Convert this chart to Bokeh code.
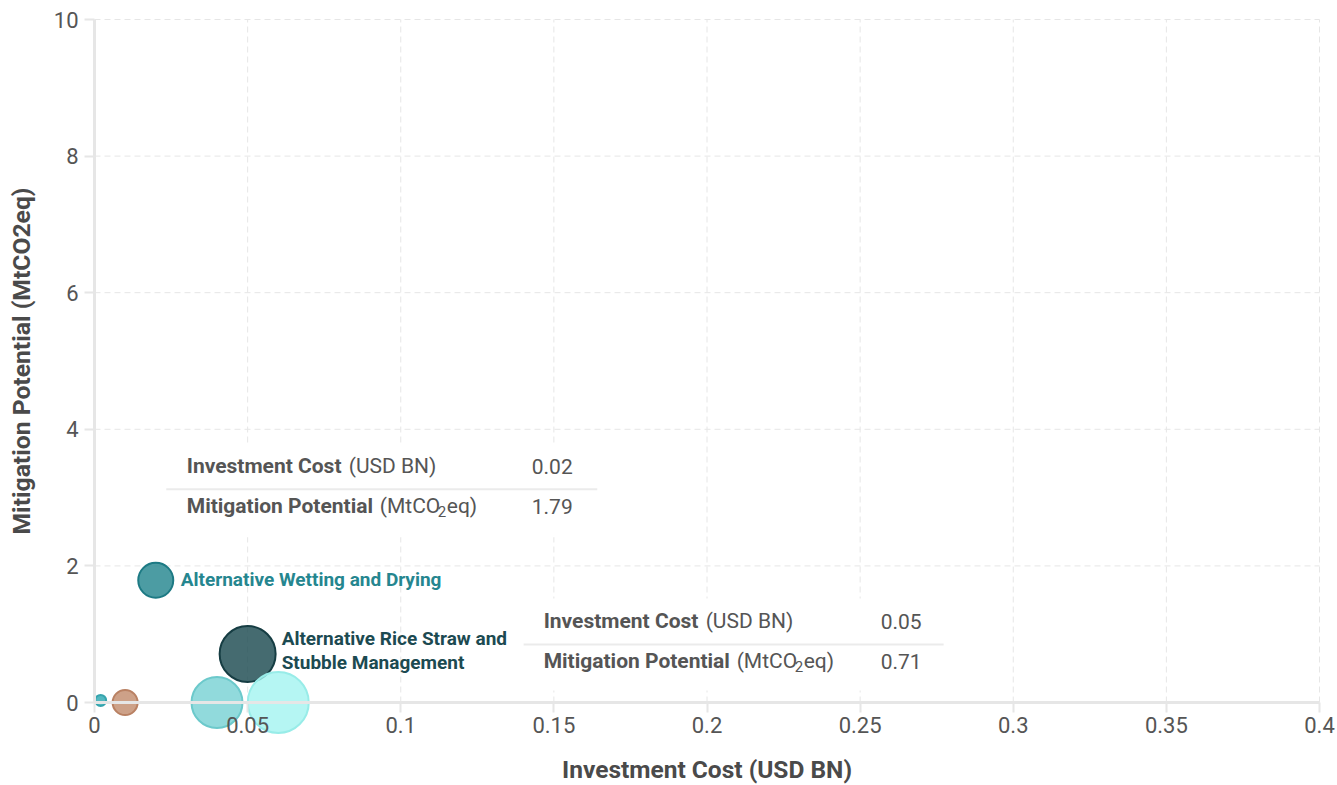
from bokeh.plotting import figure
from bokeh.models import Range1d, FixedTicker, Label
from bokeh.embed import file_html
from bokeh.resources import INLINE

# Rice practices: investment cost (USD BN) vs. mitigation potential (MtCO2eq)
invest_cost = [0.002, 0.01, 0.02, 0.05, 0.04, 0.06]
mitigation = [0.03, 0.0, 1.79, 0.71, 0.0, 0.0]
bubble_size = [11, 25, 35, 56, 51, 61]
bubble_fill = ["#3fb0b9", "#c08a6a", "#25868f", "#1c4a51", "#75d1d3", "#a3f4f0"]
bubble_line = ["#36a4ad", "#b98163", "#1d7a84", "#163d43", "#6cc9cb", "#98ece8"]
bubble_alpha = [0.9, 0.8, 0.82, 0.82, 0.8, 0.8]

x_ticks = [0, 0.05, 0.1, 0.15, 0.2, 0.25, 0.3, 0.35, 0.4]
x_tick_labels = ["0", "0.05", "0.1", "0.15", "0.2", "0.25", "0.3", "0.35", "0.4"]
y_ticks = [0, 2, 4, 6, 8, 10]

x_title = "Investment Cost (USD BN)"
y_title = "Mitigation Potential (MtCO2eq)"

# plotting area (0..0.4 by 0..10) and the margins around it, in pixels
W, H = 1337, 785
X_MIN, X_MAX = 0, 0.4
Y_MIN, Y_MAX = 0, 10
M_LEFT, M_RIGHT, M_TOP, M_BOTTOM = 94, 18, 19, 83
PX_X = (W - M_LEFT - M_RIGHT) / (X_MAX - X_MIN)
PX_Y = (H - M_TOP - M_BOTTOM) / (Y_MAX - Y_MIN)

GRID = "#e6e6e6"
TEXT = "#555555"
FONT = "Roboto"
TIP_SIZE = "21px"


def dx(px):
    """Screen pixels to x data units."""
    return px / PX_X


def dy(px):
    """Screen pixels to y data units (positive = up)."""
    return px / PX_Y


# the frame covers the whole canvas so that bubbles on the axis are not cut
p = figure(
    width=W, height=H,
    x_range=Range1d(X_MIN - dx(M_LEFT), X_MAX + dx(M_RIGHT)),
    y_range=Range1d(Y_MIN - dy(M_BOTTOM), Y_MAX + dy(M_TOP)),
    output_backend="svg", toolbar_location=None,
    min_border_left=0, min_border_right=0, min_border_top=0, min_border_bottom=0,
)
p.outline_line_color = None
p.background_fill_color = "white"
p.border_fill_color = "white"

# dashed grid restricted to the plotting area
p.xgrid.visible = False
p.ygrid.visible = False
gx = x_ticks[1:]
gy = y_ticks[1:]
p.segment(x0=gx, y0=[Y_MIN] * len(gx), x1=gx, y1=[Y_MAX] * len(gx),
          line_color=GRID, line_dash="6 4", line_width=1, level="underlay")
p.segment(x0=[X_MIN] * len(gy), y0=gy, x1=[X_MAX] * len(gy), y1=gy,
          line_color=GRID, line_dash="6 4", line_width=1, level="underlay")

# axes pinned to the zero lines
p.xaxis.fixed_location = 0
p.yaxis.fixed_location = 0
p.xaxis.bounds = (X_MIN, X_MAX)
p.yaxis.bounds = (Y_MIN, Y_MAX)
p.xaxis.ticker = FixedTicker(ticks=x_ticks)
p.xaxis.major_label_overrides = {t: l for t, l in zip(x_ticks, x_tick_labels)}
p.yaxis.ticker = FixedTicker(ticks=y_ticks)
p.xaxis.axis_label = x_title
p.yaxis.axis_label = y_title
for ax in (p.xaxis, p.yaxis):
    ax.axis_line_color = GRID
    ax.axis_line_width = 3
    ax.major_tick_line_color = GRID
    ax.major_tick_line_width = 2
    ax.major_tick_out = 10
    ax.major_tick_in = 0
    ax.minor_tick_line_color = None
    ax.major_label_text_font = FONT
    ax.major_label_text_font_size = "22px"
    ax.major_label_text_color = TEXT
    ax.axis_label_text_font = FONT
    ax.axis_label_text_font_style = "bold"
    ax.axis_label_text_color = "#4a4a4a"
p.xaxis.axis_label_text_font_size = "24.5px"
p.yaxis.axis_label_text_font_size = "24.7px"
p.xaxis.major_label_standoff = 4
p.xaxis.axis_label_standoff = 19
p.yaxis.major_label_standoff = 6
p.yaxis.axis_label_standoff = 15

# bubbles
p.scatter(x=invest_cost, y=mitigation, size=bubble_size,
          fill_color=bubble_fill, line_color=bubble_line,
          fill_alpha=bubble_alpha, line_width=2)


def add_label(i, text, x_off, y_off, size, color, style="normal", align="left"):
    p.add_layout(Label(
        x=invest_cost[i], y=mitigation[i], x_offset=x_off, y_offset=y_off,
        text=text, text_font=FONT, text_font_size=size, text_font_style=style,
        text_color=color, text_align=align, text_baseline="middle"))


# practice names next to their bubbles
add_label(2, "Alternative Wetting and Drying", 25, 1, "19px", "#25868f", "bold")
add_label(3, "Alternative Rice Straw and", 34, 16, "19px", "#1c4a51", "bold")
add_label(3, "Stubble Management", 34, -8, "19px", "#1c4a51", "bold")


def tooltip(i, box_x, box_y, box_w, box_h, row1_y, sep_y, row2_y, text_x, value_x):
    cx = invest_cost[i] + dx(box_x)
    p.rect(x=[cx], y=[mitigation[i] + dy(box_y)], width=box_w, height=box_h,
           width_units="screen", height_units="screen",
           fill_color="white", line_color=None)
    p.rect(x=[cx], y=[mitigation[i] + dy(sep_y)], width=box_w, height=2,
           width_units="screen", height_units="screen",
           fill_color="#ebebeb", line_color=None)
    add_label(i, "Investment Cost", text_x, row1_y, TIP_SIZE, TEXT, "bold")
    add_label(i, "(USD BN)", text_x + 162, row1_y, TIP_SIZE, TEXT)
    add_label(i, f"{invest_cost[i]:.2f}", value_x, row1_y, TIP_SIZE, TEXT)
    add_label(i, "Mitigation Potential", text_x, row2_y, TIP_SIZE, TEXT, "bold")
    add_label(i, "(MtCO", text_x + 193, row2_y, TIP_SIZE, TEXT)
    add_label(i, "2", text_x + 251, row2_y - 5, "15px", TEXT)
    add_label(i, "eq)", text_x + 260, row2_y, TIP_SIZE, TEXT)
    add_label(i, f"{mitigation[i]:.2f}", value_x, row2_y, TIP_SIZE, TEXT)


tooltip(2, 226, 89.5, 431, 93, 114, 91, 74, 31, 376)
tooltip(3, 486, 9.5, 420, 92, 33, 9.5, -7, 296, 633)

open("out.html", "w").write(file_html(p, INLINE))
